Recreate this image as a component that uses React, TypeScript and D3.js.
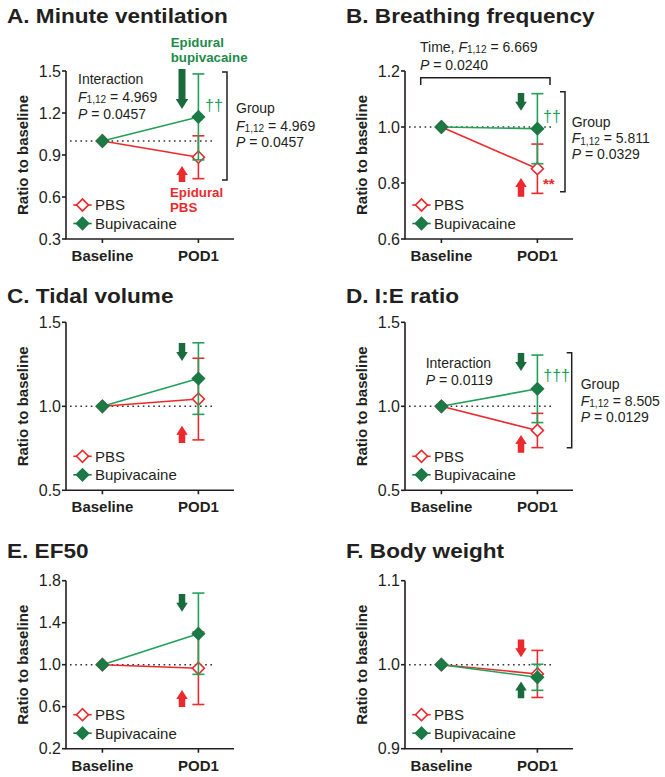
import React from 'react';
import * as d3 from 'd3';

const W = 665;
const H = 777;
const FONT = "'Liberation Sans', Arial, Helvetica, sans-serif";
const RED = '#ec2a2e';
const GREEN = '#22a05a';
const GREEN_DK = '#1b7a45';
const ARROW_GREEN = '#1a6b3c';
const TEXT_GREEN = '#1f8a4a';
const INK = '#231f20';
const ANN = 14;
const SUB_DY = 1.5;

const categories = ['Baseline', 'POD1'];
const legendLabels = ['PBS', 'Bupivacaine'];
const titles = ['A. Minute ventilation', 'B. Breathing frequency', 'C. Tidal volume', 'D. I:E ratio', 'E. EF50', 'F. Body weight'];
const yLabel = 'Ratio to baseline';

// Values: [Baseline, POD1], SD error bars
const mvPBS = [1.0, 0.884];
const mvPBSsd = [0, 0.153];
const mvBup = [1.0, 1.172];
const mvBupSd = [0, 0.307];

const bfPBS = [1.0, 0.851];
const bfPBSsd = [0, 0.088];
const bfBup = [1.0, 0.994];
const bfBupSd = [0, 0.125];

const tvPBS = [1.0, 1.043];
const tvPBSsd = [0, 0.243];
const tvBup = [1.0, 1.165];
const tvBupSd = [0, 0.213];

const iePBS = [1.0, 0.856];
const iePBSsd = [0, 0.102];
const ieBup = [1.0, 1.104];
const ieBupSd = [0, 0.201];

const efPBS = [1.0, 0.966];
const efPBSsd = [0, 0.345];
const efBup = [1.0, 1.295];
const efBupSd = [0, 0.387];

const bwPBS = [1.0, 0.989];
const bwPBSsd = [0, 0.028];
const bwBup = [1.0, 0.985];
const bwBupSd = [0, 0.0155];

const ticksA = [0.3, 0.6, 0.9, 1.2, 1.5];
const ticksB = [0.6, 0.8, 1.0, 1.2];
const ticksC = [0.5, 1.0, 1.5];
const ticksD = [0.5, 1.0, 1.5];
const ticksE = [0.2, 0.6, 1.0, 1.4, 1.8];
const ticksF = [0.9, 1.0, 1.1];

// arrows in data units: [tail, tip]
const arrowsA = [{ c: 'g', from: 1.514, to: 1.229, big: true }, { c: 'r', from: 0.707, to: 0.821 }];
const arrowsB = [{ c: 'g', from: 1.121, to: 1.058 }, { c: 'r', from: 0.751, to: 0.818 }];
const arrowsC = [{ c: 'g', from: 1.377, to: 1.27 }, { c: 'r', from: 0.782, to: 0.884 }];
const arrowsD = [{ c: 'g', from: 1.317, to: 1.21 }, { c: 'r', from: 0.724, to: 0.829 }];
const arrowsE = [{ c: 'g', from: 1.673, to: 1.505 }, { c: 'r', from: 0.597, to: 0.759 }];
const arrowsF = [{ c: 'r', from: 1.03, to: 1.009 }, { c: 'g', from: 0.96, to: 0.98 }];

const PW = 168;
const PH = 168;

function FText({ x, y, v, size = ANN }: any) {
  return (
    <text x={x} y={y} fontSize={size} fill={INK}>
      <tspan fontStyle="italic">F</tspan>
      <tspan fontSize={size * 0.72} dy={SUB_DY}>1,12</tspan>
      <tspan dy={-SUB_DY}>{' = ' + v}</tspan>
    </text>
  );
}
function PText({ x, y, v, size = ANN }: any) {
  return (
    <text x={x} y={y} fontSize={size} fill={INK}>
      <tspan fontStyle="italic">P</tspan>
      <tspan>{' = ' + v}</tspan>
    </text>
  );
}
function VBracket({ x, y1, y2, t = 5 }: any) {
  return <path d={`M${x - t},${y1}H${x}V${y2}H${x - t}`} fill="none" stroke={INK} strokeWidth={1.5} />;
}

function Arrow({ x, y1, y2, color, big }: any) {
  const dir = y2 > y1 ? 1 : -1;
  const sw = big ? 7 : 6.5;
  const hw = big ? 12.5 : 11.5;
  const hl = big ? 10 : 9;
  const yb = y2 - dir * hl;
  const d = `M${x - sw / 2},${y1}L${x + sw / 2},${y1}L${x + sw / 2},${yb}L${x + hw / 2},${yb}L${x},${y2}L${x - hw / 2},${yb}L${x - sw / 2},${yb}Z`;
  return <path d={d} fill={color} />;
}

function Diamond({ x, y, filled, r = 6 }: any) {
  const sym = d3.symbol(d3.symbolSquare, 2 * r * r)();
  return (
    <path
      d={sym || ''}
      transform={`translate(${x},${y}) rotate(45)`}
      fill={filled ? GREEN_DK : '#fff'}
      stroke={filled ? GREEN_DK : RED}
      strokeWidth={1.6}
    />
  );
}

function Series({ xs, y, vals, sds, color, filled }: any) {
  const line = d3.line<number>().x((_, i) => xs(categories[i])).y((d) => y(d));
  return (
    <g>
      <path d={line(vals) || ''} fill="none" stroke={color} strokeWidth={1.6} />
      {vals.map((v: number, i: number) => {
        if (!sds[i]) return null;
        const cx = xs(categories[i]);
        const hi = y(v + sds[i]);
        const lo = y(v - sds[i]);
        return (
          <g key={i} stroke={color} strokeWidth={1.6}>
            <line x1={cx} x2={cx} y1={hi} y2={lo} />
            <line x1={cx - 6} x2={cx + 6} y1={hi} y2={hi} />
            <line x1={cx - 6} x2={cx + 6} y1={lo} y2={lo} />
          </g>
        );
      })}
      {vals.map((v: number, i: number) => (
        <Diamond key={'d' + i} x={xs(categories[i])} y={y(v)} filled={filled} />
      ))}
    </g>
  );
}

function Panel({ p, x0, y0, titleY }: any) {
  const y = d3.scaleLinear().domain(p.domain).range([y0 + PH, y0]);
  const xs = d3.scalePoint<string>().domain(categories).range([x0 + 36.4, x0 + 132.4]);
  const fmt = d3.format('.1f');
  const ax = (k: number) => xs(categories[k]) as number;
  return (
    <g fontFamily={FONT}>
      <text transform={`translate(${x0 - 59},${titleY}) scale(1.13,1)`} fontSize={20} fontWeight="bold" fill={INK}>
        {p.title}
      </text>
      <text
        transform={`translate(${x0 - 38},${y0 + PH / 2}) rotate(-90)`}
        textAnchor="middle"
        fontSize={15}
        fontWeight="bold"
        fill={INK}
      >
        {yLabel}
      </text>
      {/* dotted reference line */}
      <line x1={x0 + 4} x2={x0 + 147} y1={y(1)} y2={y(1)} stroke="#333" strokeWidth={1.5} strokeDasharray="1.6,3.6" />
      {/* axes */}
      <path d={`M${x0},${y0}V${y0 + PH}H${x0 + PW}`} fill="none" stroke={INK} strokeWidth={1.6} />
      {p.ticks.map((t: number) => (
        <g key={t}>
          <line x1={x0 - 4} x2={x0} y1={y(t)} y2={y(t)} stroke={INK} strokeWidth={1.6} />
          <text x={x0 - 5} y={y(t)} dy="0.36em" textAnchor="end" fontSize={16} fill={INK}>
            {fmt(t)}
          </text>
        </g>
      ))}
      {categories.map((c, i) => (
        <g key={c}>
          <line x1={ax(i)} x2={ax(i)} y1={y0 + PH} y2={y0 + PH + 4} stroke={INK} strokeWidth={1.6} />
          <text x={ax(i)} y={y0 + PH + 22} textAnchor="middle" fontSize={15} fontWeight="bold" fill={INK}>
            {c}
          </text>
        </g>
      ))}
      {p.arrows.map((a: any, i: number) => (
        <Arrow
          key={i}
          x={x0 + 116}
          y1={y(a.from)}
          y2={y(a.to)}
          color={a.c === 'g' ? ARROW_GREEN : RED}
          big={a.big}
        />
      ))}
      <Series xs={xs} y={y} vals={p.pbs} sds={p.pbsSd} color={RED} filled={false} />
      <Series xs={xs} y={y} vals={p.bup} sds={p.bupSd} color={GREEN} filled={true} />
      {/* legend */}
      {legendLabels.map((l, i) => {
        const ly = y0 + 134 + i * 18.5;
        const col = i === 0 ? RED : GREEN_DK;
        return (
          <g key={l}>
            <line x1={x0 + 7.3} x2={x0 + 25.7} y1={ly} y2={ly} stroke={col} strokeWidth={1.6} />
            <Diamond x={x0 + 16.5} y={ly} filled={i === 1} />
            <text x={x0 + 29} y={ly} dy="0.36em" fontSize={15} fill={INK}>
              {l}
            </text>
          </g>
        );
      })}
      <g transform={`translate(${x0},${y0})`}>{p.extra && p.extra()}</g>
    </g>
  );
}

const panels = [
  {
    title: titles[0], domain: [0.3, 1.5], ticks: ticksA, pbs: mvPBS, pbsSd: mvPBSsd, bup: mvBup, bupSd: mvBupSd, arrows: arrowsA,
    extra: () => (
      <g>
        <text x={12} y={13.3} fontSize={ANN} fill={INK}>Interaction</text>
        <FText x={12} y={30.7} v="4.969" />
        <PText x={12} y={48.3} v="0.0457" />
        <VBracket x={161} y1={1} y2={109} />
        <text x={170} y={42.3} fontSize={ANN} fill={INK}>Group</text>
        <FText x={170} y={59.6} v="4.969" />
        <PText x={170} y={76} v="0.0457" />
        <text x={104.7} y={-24.3} fontSize={13.3} fontWeight="bold" fill={TEXT_GREEN}>Epidural</text>
        <text x={104.7} y={-9.3} fontSize={13.3} fontWeight="bold" fill={TEXT_GREEN}>bupivacaine</text>
        <text x={104} y={125.7} fontSize={13.3} fontWeight="bold" fill={RED}>Epidural</text>
        <text x={104} y={140.7} fontSize={13.3} fontWeight="bold" fill={RED}>PBS</text>
        <text x={139} y={40} fontSize={16} fill={GREEN}>††</text>
      </g>
    ),
  },
  {
    title: titles[1], domain: [0.6, 1.2], ticks: ticksB, pbs: bfPBS, pbsSd: bfPBSsd, bup: bfBup, bupSd: bfBupSd, arrows: arrowsB,
    extra: () => (
      <g>
        <text x={15} y={-19.3} fontSize={ANN} fill={INK}>
          <tspan>Time, </tspan>
          <tspan fontStyle="italic">F</tspan>
          <tspan fontSize={ANN * 0.72} dy={SUB_DY}>1,12</tspan>
          <tspan dy={-SUB_DY}> = 6.669</tspan>
        </text>
        <PText x={15} y={-1} v="0.0240" />
        <path d={`M15.7,14V6.7H145V14`} fill="none" stroke={INK} strokeWidth={1.5} />
        <VBracket x={160} y1={20.7} y2={120.7} />
        <text x={166.7} y={55.5} fontSize={ANN} fill={INK}>Group</text>
        <FText x={166.7} y={72} v="5.811" />
        <PText x={166.7} y={88.3} v="0.0329" />
        <text x={138} y={50.7} fontSize={16} fill={GREEN}>††</text>
        <text x={138} y={118} fontSize={15} fontWeight="bold" fill={RED}>**</text>
      </g>
    ),
  },
  {
    title: titles[2], domain: [0.5, 1.5], ticks: ticksC, pbs: tvPBS, pbsSd: tvPBSsd, bup: tvBup, bupSd: tvBupSd, arrows: arrowsC,
    extra: null,
  },
  {
    title: titles[3], domain: [0.5, 1.5], ticks: ticksD, pbs: iePBS, pbsSd: iePBSsd, bup: ieBup, bupSd: ieBupSd, arrows: arrowsD,
    extra: () => (
      <g>
        <text x={20.7} y={45.4} fontSize={ANN} fill={INK}>Interaction</text>
        <PText x={20.7} y={62.7} v="0.0119" />
        <VBracket x={166.7} y1={30.4} y2={125.4} />
        <text x={175.7} y={66.8} fontSize={ANN} fill={INK}>Group</text>
        <FText x={175.7} y={83.3} v="8.505" />
        <PText x={175.7} y={99.7} v="0.0129" />
        <text x={138.3} y={58.7} fontSize={16} fill={GREEN}>†††</text>
      </g>
    ),
  },
  {
    title: titles[4], domain: [0.2, 1.8], ticks: ticksE, pbs: efPBS, pbsSd: efPBSsd, bup: efBup, bupSd: efBupSd, arrows: arrowsE,
    extra: null,
  },
  {
    title: titles[5], domain: [0.9, 1.1], ticks: ticksF, pbs: bwPBS, pbsSd: bwPBSsd, bup: bwBup, bupSd: bwBupSd, arrows: arrowsF,
    extra: null,
  },
];

const colX = [66, 405];
const rowY = [71, 322.3, 580.7];
const titleYs = [23.3, 303.3, 557.7];

export default function App() {
  return (
    <svg width={W} height={H} style={{ position: 'absolute', left: 0, top: 0, background: '#fff' }}>
      <rect width={W} height={H} fill="#fff" />
      {panels.map((p, i) => (
        <Panel key={i} p={p} x0={colX[i % 2]} y0={rowY[Math.floor(i / 2)]} titleY={titleYs[Math.floor(i / 2)]} />
      ))}
    </svg>
  );
}
